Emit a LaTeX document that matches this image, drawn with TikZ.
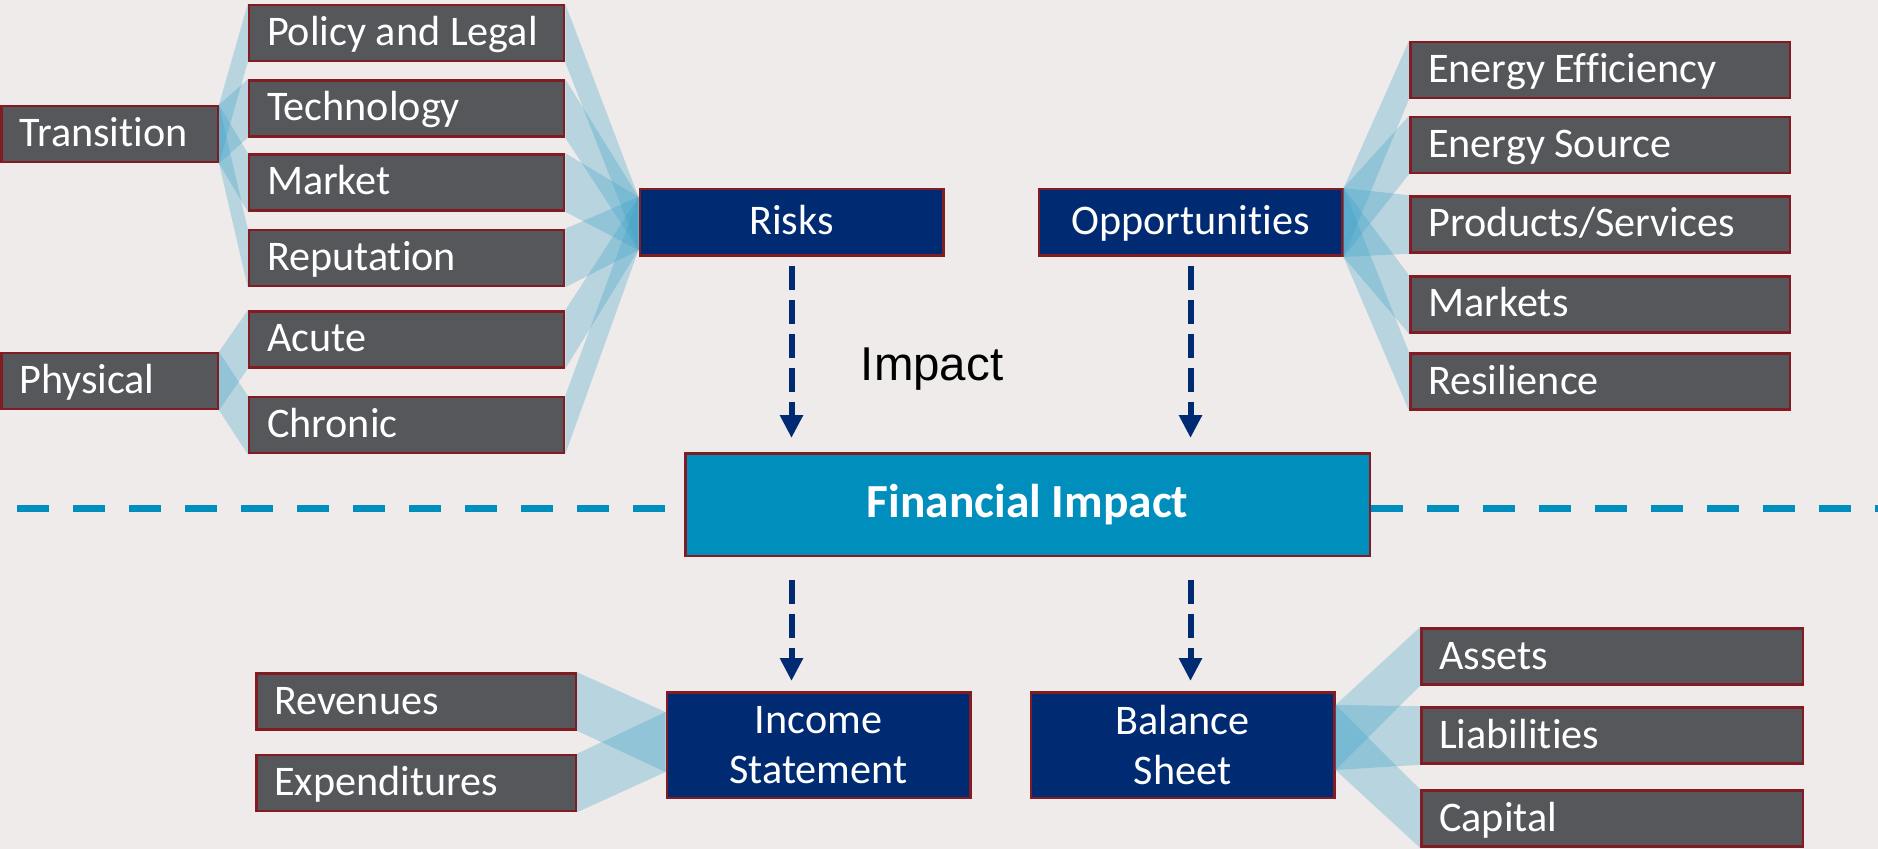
\documentclass[tikz,border=0pt]{standalone}
\usepackage{fontspec}
\setmainfont{Carlito}[Ligatures=NoCommon]
\newfontfamily\impactfont{Liberation Sans}
\usepackage{tikz}
\usetikzlibrary{arrows.meta}
\definecolor{bgback}{RGB}{238,235,234}
\definecolor{boxgray}{RGB}{86,87,90}
\definecolor{boxred}{RGB}{130,28,34}
\definecolor{boxnavy}{RGB}{0,43,114}
\definecolor{fincyan}{RGB}{0,142,188}
\definecolor{fanblue}{RGB}{60,160,200}
\tikzset{
  fin_box/.style = {rectangle, inner sep=0pt, draw=boxred, line width=0.05cm,
    text=white, font=\fontsize{24}{28.5}\selectfont},
  fin_g/.style = {fin_box, fill=boxgray, inner xsep=0.36cm, align=flush left,
    text width=#1, minimum height=1.12cm, text height=0.66cm,
    text depth=0.16cm},% grey box, text on the left
  fin_n/.style = {fin_box, fill=boxnavy, align=center,
    minimum width=6.07cm},% navy box
  fin_c/.style = {fin_box, fill=fincyan, font=\fontsize{27}{32}\selectfont\bfseries,
    minimum width=13.69cm, minimum height=2.05cm},% cyan box
  fan_fill/.style = {fill=fanblue, fill opacity=0.3},
  imp_arrow/.style = {draw=boxnavy, line width=0.12cm,
    dash pattern=on 0.48cm off 0.2cm, -{Triangle[length=0.46cm, width=0.44cm]}},
  sep_line/.style = {draw=fincyan, line width=0.14cm, dash pattern=on 0.64cm off 0.48cm}
}

\begin{document}
\begin{tikzpicture}
  \useasboundingbox (0,0) rectangle (37.56,-16.98);
  \fill[bgback] (0,0) rectangle (37.56,-16.98);

  % risks side
  \node[fin_g=3.61cm] (trans) at (2.19,-2.68) {Transition};
  \node[fin_g=3.61cm] (phys) at (2.19,-7.62) {Physical};
  \foreach \n/\t/\y in {policy/Policy and Legal/-0.66, tech/Technology/-2.17,
      market/Market/-3.65, reput/Reputation/-5.16, acute/Acute/-6.79,
      chronic/Chronic/-8.50}
    \node[fin_g=5.58cm] (\n) at (8.13,\y) {\t};
  \node[fin_n, minimum height=1.33cm, text height=0.66cm, text depth=0.16cm]
    (risks) at (15.83,-4.45) {Risks};

  % opportunities side
  \node[fin_n, minimum height=1.33cm, text height=0.66cm, text depth=0.16cm]
    (opps) at (23.81,-4.45) {Opportunities};
  \foreach \n/\t/\y in {eneff/Energy Efficiency/-1.40, ensrc/Energy Source/-2.90,
      prod/Products\slash Services/-4.49, mkts/Markets/-6.09, resil/Resilience/-7.63}
    \node[fin_g=6.87cm] (\n) at (32.0,\y) {\t};

  \node[font=\impactfont\fontsize{27}{32}\selectfont] (impact) at (18.64,-7.38) {Impact};
  \node[fin_c] (fin) at (20.55,-10.09) {Financial Impact};

  % statements
  \node[fin_g=5.67cm] (reven) at (8.32,-14.03) {Revenues};
  \node[fin_g=5.67cm] (expend) at (8.32,-15.66) {Expenditures};
  \node[fin_n, minimum height=2.11cm] (income) at (16.37,-14.90) {Income\\Statement};
  \node[fin_n, minimum height=2.11cm] (balance) at (23.65,-14.90) {Balance\\Sheet};
  \foreach \n/\t/\y in {assets/Assets/-13.13, liab/Liabilities/-14.71,
      capital/Capital/-16.37}
    \node[fin_g=6.91cm] (\n) at (32.24,\y) {\t};

  % fans
  \foreach \c in {policy,tech,market,reput}
    \fill[fan_fill] (trans.north east) -- (\c.north west) -- (\c.south west)
      -- (trans.south east) -- cycle;
  \foreach \c in {acute,chronic}
    \fill[fan_fill] (phys.north east) -- (\c.north west) -- (\c.south west)
      -- (phys.south east) -- cycle;
  \foreach \c in {policy,tech,market,reput,acute,chronic}
    \fill[fan_fill] (\c.north east) -- ([yshift=-0.18cm]risks.north west)
      -- ([yshift=0.14cm]risks.south west) -- (\c.south east) -- cycle;
  \foreach \c in {eneff,ensrc,prod,mkts,resil}
    \fill[fan_fill] (opps.north east) -- (\c.north west) -- (\c.south west)
      -- (opps.south east) -- cycle;
  \foreach \c in {reven,expend}
    \fill[fan_fill] (\c.north east) -- ([yshift=-0.42cm]income.north west)
      -- ([yshift=0.54cm]income.south west) -- (\c.south east) -- cycle;
  \foreach \c in {assets,liab,capital}
    \fill[fan_fill] ([yshift=-0.28cm]balance.north east) -- (\c.north west)
      -- (\c.south west) -- ([yshift=0.58cm]balance.south east) -- cycle;

  % impact arrows
  \draw[imp_arrow] ([yshift=-0.18cm]risks.south) -- ([yshift=0.28cm]risks.south |- fin.north);
  \draw[imp_arrow] ([yshift=-0.18cm]opps.south) -- ([yshift=0.28cm]opps.south |- fin.north);
  \draw[imp_arrow] ([yshift=-0.45cm]fin.south -| risks.south) -- ([yshift=0.2cm]income.north -| risks.south);
  \draw[imp_arrow] ([yshift=-0.45cm]fin.south -| opps.south) -- ([yshift=0.2cm]balance.north -| opps.south);

  % separator
  \coordinate (lend) at (0.34,-10.16);
  \coordinate (rend) at (37.56,-10.16);
  \draw[sep_line] (lend) -- (lend -| fin.west);
  \draw[sep_line] (rend -| fin.east) -- (rend);
\end{tikzpicture}
\end{document}
